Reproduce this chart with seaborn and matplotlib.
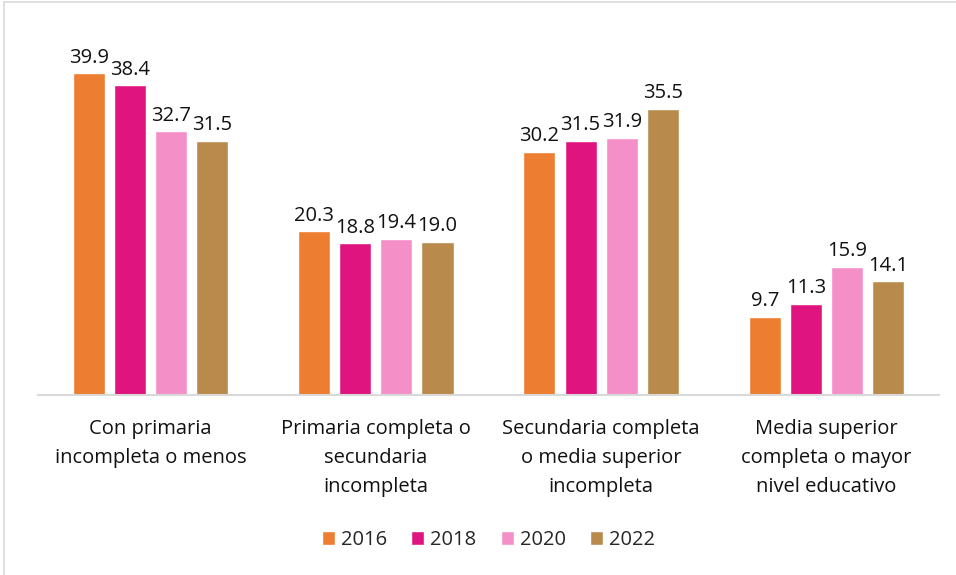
import matplotlib
matplotlib.use("Agg")
import matplotlib.pyplot as plt
import seaborn as sns
import pandas as pd
from matplotlib.lines import Line2D

categories = [
    "Con primaria\nincompleta o menos",
    "Primaria completa o\nsecundaria\nincompleta",
    "Secundaria completa\no media superior\nincompleta",
    "Media superior\ncompleta o mayor\nnivel educativo",
]
years = ["2016", "2018", "2020", "2022"]
v2016 = [39.9, 20.3, 30.2, 9.7]
v2018 = [38.4, 18.8, 31.5, 11.3]
v2020 = [32.7, 19.4, 31.9, 15.9]
v2022 = [31.5, 19.0, 35.5, 14.1]
colors = ["#ED7D31", "#E0147F", "#F48FC7", "#B88B4C"]

rows = []
for year, vals in zip(years, [v2016, v2018, v2020, v2022]):
    for cat, v in zip(categories, vals):
        rows.append({"cat": cat, "year": year, "value": v})
df = pd.DataFrame(rows)

sns.set_style("white")
plt.rcParams["font.family"] = ["Open Sans", "DejaVu Sans"]

fig = plt.figure(figsize=(9.56, 5.75), dpi=100)
ax = fig.add_axes([0.0397, 0.313, 0.9425, 0.631])
sns.barplot(data=df, x="cat", y="value", hue="year", palette=colors,
            saturation=1, width=0.73, gap=0.22, ax=ax, legend=True)

for cont in ax.containers:
    ax.bar_label(cont, fmt="%.1f", padding=4, fontsize=14.5, color="#111111")

ax.set_ylim(0, 45)
ax.set_xlim(-0.5, 3.5)
ax.set_xlabel("")
ax.set_ylabel("")
ax.set_yticks([])
for s in ["top", "right", "left"]:
    ax.spines[s].set_visible(False)
ax.spines["bottom"].set_color("#D9D9D9")
ax.spines["bottom"].set_linewidth(1.5)
ax.tick_params(axis="x", length=0, pad=17, labelsize=14.5, labelcolor="#111111")
for lab in ax.get_xticklabels():
    lab.set_linespacing(1.6)
    lab.set_verticalalignment("top")

ax.legend(loc="center", bbox_to_anchor=(0.5, -0.40), ncol=4, frameon=False,
          fontsize=14.5, handlelength=0.65, handleheight=0.65, handletextpad=0.3,
          columnspacing=1.2)

# outer chart border
fig.add_artist(Line2D([0.0045, 0.0045], [0, 0.997], color="#D9D9D9", lw=1.2,
                      transform=fig.transFigure))
fig.add_artist(Line2D([0.0045, 1], [0.997, 0.997], color="#D9D9D9", lw=1.2,
                      transform=fig.transFigure))

fig.savefig("out.png", dpi=100)
